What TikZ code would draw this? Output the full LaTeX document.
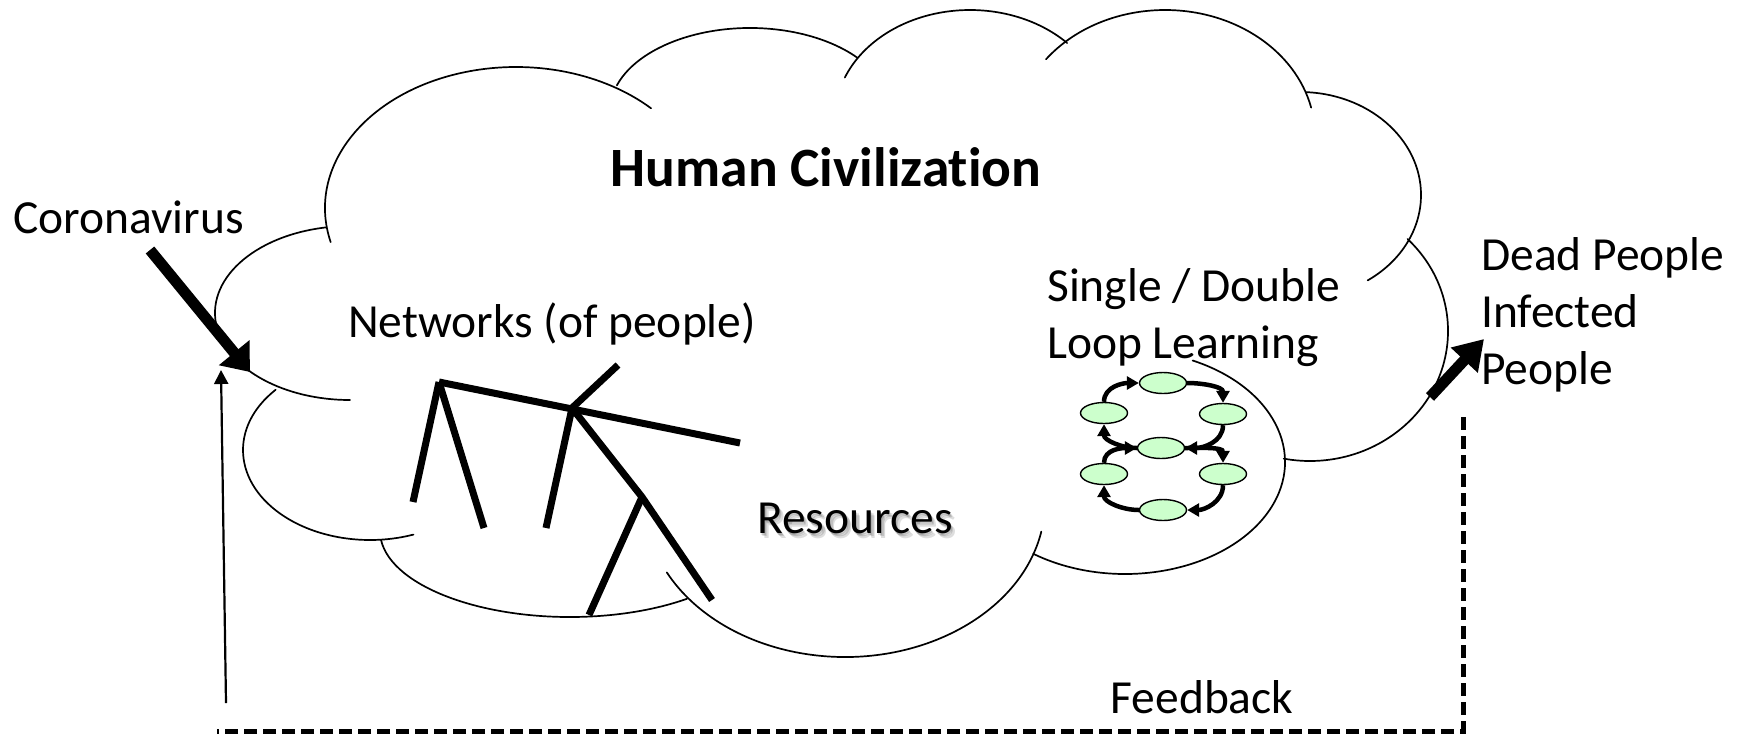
\documentclass[tikz,border=0pt]{standalone}
\usepackage{fontspec}
\setmainfont{Carlito}[Ligatures=NoCommon]
\usetikzlibrary{arrows.meta,shapes.geometric}
\definecolor{loopgreen}{HTML}{CCFFCC}
% one bump of the cloud: centre x, centre y, x radius, y radius, start angle, end angle
\newcommand\cloudlobe[6]{\draw[cloudline] ([shift={(#5:#3 and #4)}]#1,#2) arc[start angle=#5,end angle=#6,x radius=#3,y radius=#4];}
\begin{document}
\begin{tikzpicture}[x=1pt,y=-1pt,
  cloudline/.style={line width=1.7pt,line cap=round},
  twig/.style={line width=7pt},
  bigarrow/.style={line width=11pt,-{Triangle[length=25pt,width=38pt]}},
  thinarrow/.style={line width=2.2pt,-{Triangle[length=14pt,width=14pt]}},
  loopnode/.style={ellipse,draw,line width=1.4pt,fill=loopgreen,minimum width=47pt,minimum height=21pt,inner sep=0pt},
  looparrow/.style={line width=4.5pt,-{Triangle[length=12pt,width=13pt]}},
  txt/.style={font=\fontsize{47.5}{57}\selectfont,inner sep=0pt},
  titletxt/.style={font=\bfseries\fontsize{55.5}{66}\selectfont,inner sep=0pt},
  feedback/.style={line width=5pt,dash pattern=on 13pt off 6pt},
]
\useasboundingbox (0,0) rectangle (1744,737);
\fill[white] (0,0) rectangle (1744,737);

% cloud outline, bump by bump
\cloudlobe{516}{208}{191}{141}{166}{315}
\cloudlobe{750}{111}{140}{83}{-162}{-40}
\cloudlobe{970}{118}{135}{108}{-158}{-44}
\cloudlobe{1165}{136}{150}{126}{-142.5}{-13}
\cloudlobe{1300}{195}{121}{103}{-87}{56}
\cloudlobe{1310}{331}{138}{130}{-45}{101}
\cloudlobe{1125}{462}{160}{112}{-65}{125}
\cloudlobe{845}{502}{200}{155}{11}{153}
\cloudlobe{570}{531}{190}{86}{174}{52}
\cloudlobe{370}{450}{127}{90}{222}{70}
\cloudlobe{350}{313}{135}{87}{260}{90}

% texts
\node[titletxt] (title) at (826,167) {Human Civilization};
\node[txt,anchor=west] (virus) at (13,217) {Coronavirus};
\node[txt] (net) at (552,324) {Networks (of people)};
\foreach \dx/\dy in {1/2,2.5/3.5,4/5}
  \node[txt,text=black,opacity=.13] at (855+\dx,518+\dy) {Resources};
\node[txt] (res) at (855,518) {Resources};
\node[txt,anchor=west,align=left] (learn) at (1047,318) {Single / Double\\Loop Learning};
\node[txt,anchor=west,align=left] (dead) at (1481,315) {Dead People\\Infected\\People};
\node[txt] (fb) at (1202,697) {Feedback};

% network of people
\coordinate (n1) at (439,382);
\coordinate (n2) at (740,443);
\coordinate (n3) at (413,502);
\coordinate (n4) at (484,528);
\coordinate (j2) at (572,408);
\coordinate (n5) at (618,365);
\coordinate (n6) at (546,528);
\coordinate (j3) at (642,497);
\coordinate (n7) at (712,600);
\coordinate (n8) at (589,615);
\draw[twig] (n1) -- (n2);
\draw[twig] (n1) -- (n3);
\draw[twig] (n1) -- (n4);
\draw[twig] (j2) -- (n5);
\draw[twig] (j2) -- (n6);
\draw[twig] (j2) -- (j3) -- (n7);
\draw[twig] (j3) -- (n8);

% single / double loop learning
\node[loopnode] (lT) at (1163,383) {};
\node[loopnode] (lUL) at (1104,413) {};
\node[loopnode] (lUR) at (1223,414) {};
\node[loopnode] (lM) at (1161,448) {};
\node[loopnode] (lLL) at (1104,474) {};
\node[loopnode] (lLR) at (1223,474) {};
\node[loopnode] (lB) at (1163,510) {};
\draw[looparrow] (lUL.north) to[out=90,in=180] (lT.west);
\draw[looparrow] (lT.east) to[out=0,in=90] (lUR.north);
\draw[looparrow] (lUR.south) to[out=-90,in=0] (lM.east);
\draw[looparrow] (lM.west) to[out=180,in=-90] (lUL.south);
\draw[looparrow] (lLL.north) to[out=90,in=180] (lM.west);
\draw[looparrow] (lM.east) to[out=0,in=90] (lLR.north);
\draw[looparrow] (lLR.south) to[out=-90,in=0] (lB.east);
\draw[looparrow] (lB.west) to[out=180,in=-90] (lLL.south);

% inputs and outputs
\coordinate (virusfrom) at (150,250);
\coordinate (virusto) at (250,372);
\draw[bigarrow] (virusfrom) -- (virusto);
\coordinate (deadfrom) at (1430,397);
\coordinate (deadto) at (1484,339);
\draw[bigarrow,-{Triangle[length=29pt,width=35pt]}] (deadfrom) -- (deadto);

% feedback loop
\coordinate (fbtop) at (1463,417);
\coordinate (fbend) at (217,731);
\draw[feedback] (fbtop) |- (fbend);
\coordinate (upfrom) at (226,703);
\coordinate (upto) at (221,370);
\draw[thinarrow] (upfrom) -- (upto);
\end{tikzpicture}
\end{document}
